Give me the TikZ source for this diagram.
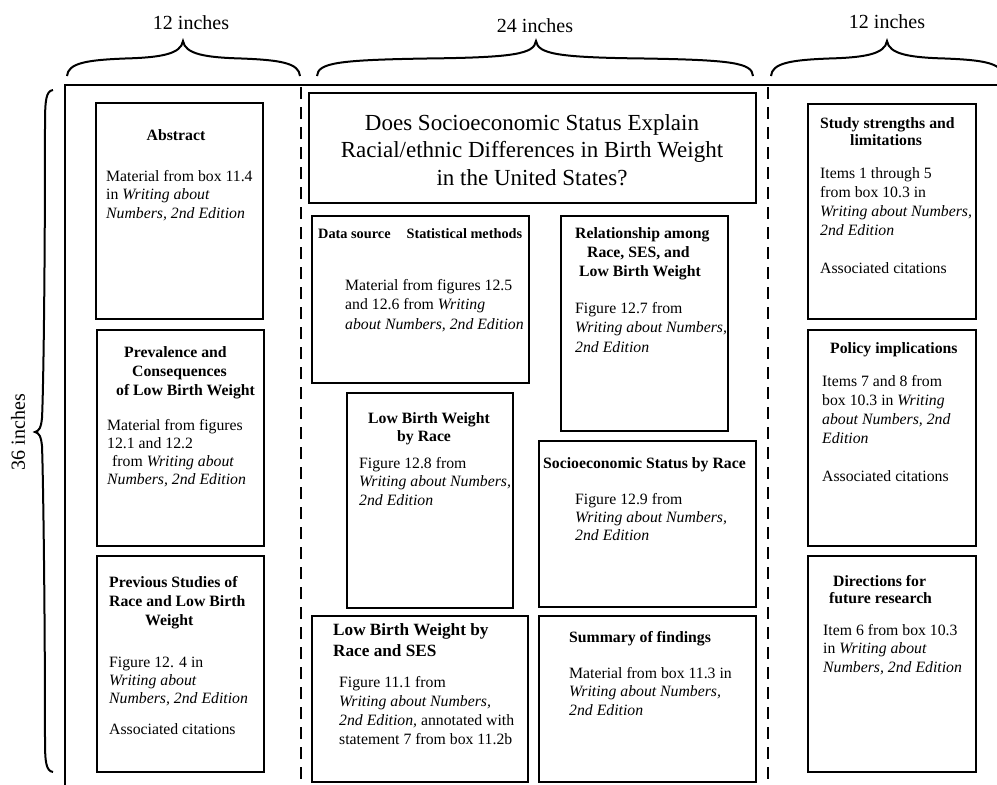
\documentclass[tikz,border=0pt]{standalone}
\usepackage{fontspec}
\setmainfont{Liberation Serif}
\newcommand{\fs}[1]{\fontsize{15.75}{#1}\selectfont}
\newcommand{\hbr}[3]{%
\draw[bracel] (#1,76) .. controls ({#1+1},63) and ({#1+20},60) .. ({(#1+#2)/2},58.5)
  .. controls ({#2-22},57.5) and ({#2-2},54) .. (#2,41)
  .. controls ({#2+2},54) and ({#2+22},57.5) .. ({(#2+#3)/2},58.5)
  .. controls ({#3-20},60) and ({#3-1},63) .. (#3,76);}
\begin{document}
\begin{tikzpicture}[x=1pt,y=-1pt,
  box/.style={draw,line width=2.4pt,inner sep=0pt,outer sep=0pt},
  txt/.style={inner sep=0pt,align=left,anchor=base west},
  ctr/.style={inner sep=0pt,align=center,anchor=base},
  frameline/.style={line width=2.5pt},
  dashline/.style={line width=2.6pt,dash pattern=on 12pt off 8pt},
  bracel/.style={line width=2pt}]
\useasboundingbox (0,0) rectangle (997,785);

% frame and column separators
\draw[frameline] (997,85) -- (65,85) -- (65,785);
\draw[dashline] (301,87) -- (301,785);
\draw[dashline] (768,87) -- (768,785);

% braces
\hbr{67}{183}{300}
\hbr{317}{536}{753}
\hbr{771}{887}{1003}
\draw[bracel] (53,90) .. controls (46,91) and (45,100) .. (45,125)
  .. controls (45,300) and (43,400) .. (42,418)
  .. controls (41,428) and (39,431) .. (35,432)
  .. controls (39,433) and (41,436) .. (42,446)
  .. controls (43,470) and (45,600) .. (45,740)
  .. controls (45,762) and (46,771) .. (53,772);

% dimension labels
\node[ctr,font=\fontsize{20}{24}\selectfont] (w1) at (191,29) {12 inches};
\node[ctr,font=\fontsize{20}{24}\selectfont] (w2) at (535,32) {24 inches};
\node[ctr,font=\fontsize{20}{24}\selectfont] (w3) at (887,28) {12 inches};
\node[font=\fontsize{20}{24}\selectfont,rotate=90,inner sep=0pt] (h1) at (18,432) {36 inches};

% boxes
\node[box,minimum width=167,minimum height=216] (abs) at (179.5,211) {};
\node[box,minimum width=167,minimum height=216] (prev) at (180.5,438) {};
\node[box,minimum width=167,minimum height=216] (stud) at (180.5,664) {};
\node[box,minimum width=447,minimum height=110] (title) at (532.5,148) {};
\node[box,minimum width=217,minimum height=167] (data) at (420.5,299.5) {};
\node[box,minimum width=167,minimum height=215] (rel) at (644.5,323.5) {};
\node[box,minimum width=166,minimum height=215] (lbwr) at (430,500.5) {};
\node[box,minimum width=217,minimum height=166] (ses) at (647.5,524) {};
\node[box,minimum width=216,minimum height=166] (lbwses) at (420,699) {};
\node[box,minimum width=217,minimum height=166] (summ) at (647.5,699) {};
\node[box,minimum width=168,minimum height=215] (str) at (892,211.5) {};
\node[box,minimum width=168,minimum height=216] (pol) at (892,438) {};
\node[box,minimum width=168,minimum height=216] (dir) at (892,664) {};

% left column text (base anchor = baseline of the last line)
\node[ctr,font=\fs{19}\bfseries] (t-abs) at (176,140) {Abstract};
\node[txt,font=\fs{18.7}] (b-abs) at (106,218.4) {Material from box 11.4\\in \emph{Writing about}\\\emph{Numbers, 2nd Edition}};
\node[txt,font=\fs{19}\bfseries] (t-prev) at (116,395) {\hspace*{8pt}Prevalence and\\\hspace*{16pt}Consequences\\of Low Birth Weight};
\node[txt,font=\fs{18.3}] (b-prev) at (107,484.9) {Material from figures\\12.1 and 12.2\\\hspace*{5pt}from \emph{Writing about}\\\emph{Numbers, 2nd Edition}};
\node[txt,font=\fs{19}\bfseries] (t-stud) at (109,625) {Previous Studies of\\Race and Low Birth\\\hspace*{36pt}Weight};
\node[txt,font=\fs{18}] (b-stud) at (109,703) {Figure 12. 4 in\\\emph{Writing about}\\\emph{Numbers, 2nd Edition}};
\node[txt,font=\fs{19}] (c-stud) at (109,734) {Associated citations};

% middle column text
\node[ctr,font=\fontsize{23}{27.5}\selectfont] (t-title) at (532,185) {Does Socioeconomic Status Explain\\Racial/ethnic Differences in Birth Weight\\in the United States?};
\node[txt,font=\fontsize{14.3}{17}\selectfont\bfseries] (t-data) at (318,238) {Data source\hspace{16pt}Statistical methods};
\node[txt,font=\fs{19.5}] (b-data) at (345,329) {Material from figures 12.5\\and 12.6 from \emph{Writing}\\\emph{about Numbers, 2nd Edition}};
\node[txt,font=\fs{19}\bfseries] (t-rel) at (575,276) {Relationship among\\\hspace*{12pt}Race, SES, and\\\hspace*{4pt}Low Birth Weight};
\node[txt,font=\fs{19.5}] (b-rel) at (575,352) {Figure 12.7 from\\\emph{Writing about Numbers,}\\\emph{2nd Edition}};
\node[txt,font=\fs{18}\bfseries] (t-lbwr) at (368,441) {Low Birth Weight\\\hspace*{29pt}by Race};
\node[txt,font=\fs{18.5}] (b-lbwr) at (359,505) {Figure 12.8 from\\\emph{Writing about Numbers,}\\\emph{2nd Edition}};
\node[txt,font=\fs{19}\bfseries] (t-ses) at (543,468) {Socioeconomic Status by Race};
\node[txt,font=\fs{18}] (b-ses) at (575,540) {Figure 12.9 from\\\emph{Writing about Numbers,}\\\emph{2nd Edition}};
\node[txt,font=\fontsize{17.2}{21}\selectfont\bfseries] (t-lbwses) at (333,656) {Low Birth Weight by\\Race and SES};
\node[txt,font=\fs{19}] (b-lbwses) at (339,744) {Figure 11.1 from\\\emph{Writing about Numbers,}\\\emph{2nd Edition,} annotated with\\statement 7 from box 11.2b};
\node[txt,font=\fs{19}\bfseries] (t-summ) at (569,642) {Summary of findings};
\node[txt,font=\fs{18.5}] (b-summ) at (569,715) {Material from box 11.3 in\\\emph{Writing about Numbers,}\\\emph{2nd Edition}};

% right column text
\node[txt,font=\fs{17.5}\bfseries] (t-str) at (820,145.5) {Study strengths and\\\hspace*{30pt}limitations};
\node[txt,font=\fs{18.7}] (b-str) at (820,235) {Items 1 through 5\\from box 10.3 in\\\emph{Writing about Numbers,}\\\emph{2nd Edition}};
\node[txt,font=\fs{19}] (c-str) at (820,273) {Associated citations};
\node[txt,font=\fs{19}\bfseries] (t-pol) at (830,353) {Policy implications};
\node[txt,font=\fs{18.7}] (b-pol) at (822,443) {Items 7 and 8 from\\box 10.3 in \emph{Writing}\\\emph{about Numbers, 2nd}\\\emph{Edition}};
\node[txt,font=\fs{19}] (c-pol) at (822,481) {Associated citations};
\node[txt,font=\fs{17.5}\bfseries] (t-dir) at (829,603.5) {\hspace*{4pt}Directions for\\future research};
\node[txt,font=\fs{18.5}] (b-dir) at (823,672) {Item 6 from box 10.3\\in \emph{Writing about}\\\emph{Numbers, 2nd Edition}};
\end{tikzpicture}
\end{document}
